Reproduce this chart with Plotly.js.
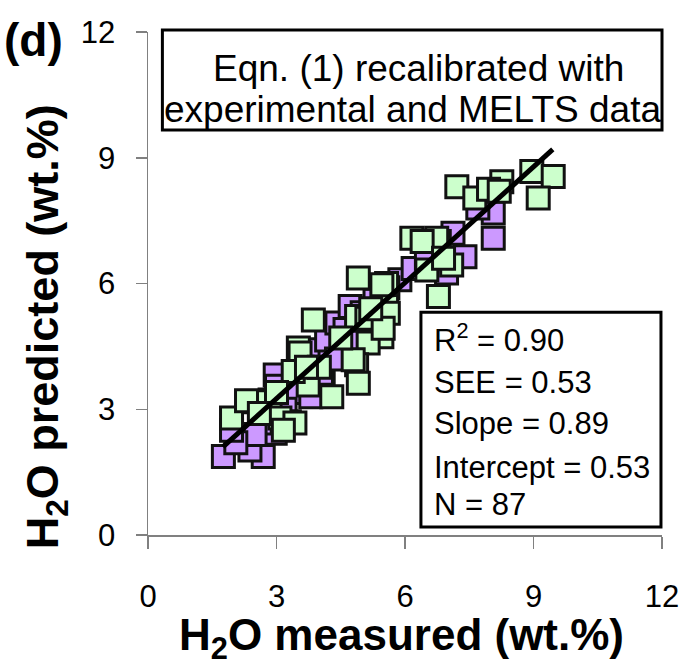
<!DOCTYPE html>
<html>
<head>
<meta charset="utf-8">
<script src="https://cdn.plot.ly/plotly-3.0.1.min.js"></script>
<style>html,body{margin:0;padding:0;background:#fff;}#chart{width:680px;height:663px;}</style>
</head>
<body>
<div id="chart"></div>
<script>
// Purple series (underneath)
const purpleX = [1.76,2.69,2.23,2.38,2.97,2.62,2.97,3.0,4.02,4.09,4.05,4.25,4.17,4.41,4.72,4.6,5.0,5.88,6.19,6.97,7.12,7.40,8.06,8.06,3.4,3.6,2.5,3.2,5.3,6.5,7.7,4.4,5.6,2.05,3.8,4.9,6.8,2.8,1.95,3.3];
const purpleY = [1.87,1.87,2.27,2.03,2.43,2.67,3.82,3.55,4.42,3.78,3.86,4.46,4.65,5.06,5.45,4.9,5.3,6.09,6.36,6.25,7.2,6.64,7.68,7.08,3.4,4.0,2.4,3.0,5.6,6.6,7.8,4.2,5.9,2.2,3.3,4.6,7.0,2.9,2.5,2.7];
// Green series (on top)
const greenX = [7.21,7.63,8.26,8.96,9.46,9.11,7.95,6.16,6.74,7.09,6.51,6.78,5.57,5.57,5.46,4.91,5.46,3.86,3.51,5.14,5.61,4.87,5.11,5.49,3.55,4.87,4.79,3.74,4.29,4.91,3.39,2.85,1.95,2.50,3.08,3.43,3.16,2.3,3.0,4.0,6.4,5.2,4.5,3.7,2.6,6.9,8.2];
const greenY = [8.31,8.04,8.43,8.67,8.55,8.04,8.25,7.08,7.08,6.44,6.32,5.69,6.0,5.45,4.73,6.13,5.97,5.13,4.46,4.58,5.29,5.21,5.17,4.93,4.34,4.06,4.18,3.58,3.30,3.62,3.90,3.22,2.79,3.18,2.79,2.67,2.5,3.2,3.4,4.0,7.0,5.4,4.7,4.0,2.9,6.6,8.2];
// Regression line endpoints
const fitX = [1.75, 9.45];
const fitY = [2.1, 9.2];
// Axis ticks
const tickVals = [0,3,6,9,12];
const tickText = ["0","3","6","9","12"];
// Texts
const xTitle = "<b>H<sub>2</sub>O measured (wt.%)</b>";
const yTitle = "<b>H<sub>2</sub>O predicted (wt.%)</b>";
const panelLabel = "<b>(d)</b>";
const boxLines = ["Eqn. (1) recalibrated with", "experimental and MELTS data"];
const statLines = ["R<sup>2</sup> = 0.90","SEE = 0.53","Slope = 0.89","Intercept = 0.53","N = 87"];

const FONT = "Liberation Sans, Arial, sans-serif";
const mk = (c)=>({symbol:'square', size:22, color:c, line:{color:'#111', width:3}});

const traces = [
  {x:purpleX, y:purpleY, type:'scatter', mode:'markers', marker:mk('#cc99ff'), name:'MELTS', hoverinfo:'skip'},
  {x:greenX, y:greenY, type:'scatter', mode:'markers', marker:mk('#ccffcc'), name:'Experimental', hoverinfo:'skip'},
  {x:fitX, y:fitY, type:'scatter', mode:'lines', line:{color:'#000', width:5}, name:'Fit', hoverinfo:'skip'}
];

const statY = [0.392,0.304,0.221,0.135,0.060];
const annotations = [];
statLines.forEach((t,i)=>annotations.push({xref:'paper',yref:'paper',x:0.553,y:statY[i],xanchor:'left',yanchor:'middle',text:t,showarrow:false,font:{family:FONT,size:31,color:'#000'}}));
const boxY = [0.928,0.845];
const boxX = [0.527,0.514];
boxLines.forEach((t,i)=>annotations.push({xref:'paper',yref:'paper',x:boxX[i],y:boxY[i],xanchor:'center',yanchor:'middle',text:t,showarrow:false,font:{family:FONT,size:37,color:'#000'}}));
annotations.push({xref:'paper',yref:'paper',x:-0.285,y:0.985,xanchor:'left',yanchor:'middle',text:panelLabel,showarrow:false,font:{family:FONT,size:46,color:'#000'}});
annotations.push({xref:'paper',yref:'paper',x:0.493,y:-0.204,xanchor:'center',yanchor:'middle',text:xTitle,showarrow:false,font:{family:FONT,size:44,color:'#000'}});
annotations.push({xref:'paper',yref:'paper',x:-0.2,y:0.4135,xanchor:'center',yanchor:'middle',textangle:-90,text:yTitle,showarrow:false,font:{family:FONT,size:45,color:'#000'}});

const layout = {
  width:680, height:663,
  margin:{l:148, r:18, t:32, b:128},
  paper_bgcolor:'#fff', plot_bgcolor:'#fff',
  showlegend:false,
  font:{family:FONT, color:'#000'},
  xaxis:{range:[0,12], tickvals:tickVals, ticktext:tickText, showgrid:false, zeroline:false,
    showline:true, linecolor:'#808080', linewidth:1.5, ticks:'outside', ticklen:12, tickwidth:1.5, tickcolor:'#808080',
    tickfont:{family:FONT,size:31,color:'#000'}, ticklabelstandoff:21, automargin:false},
  yaxis:{range:[0,12], tickvals:tickVals, ticktext:tickText, showgrid:false, zeroline:false,
    showline:true, linecolor:'#808080', linewidth:1.5, ticks:'outside', ticklen:11, tickwidth:1.5, tickcolor:'#808080',
    tickfont:{family:FONT,size:31,color:'#000'}, ticklabelstandoff:14, automargin:false},
  shapes:[
    {type:'rect', xref:'paper', yref:'paper', x0:0.028, x1:1.0, y0:0.805, y1:1.004, line:{color:'#000', width:3}, fillcolor:'rgba(0,0,0,0)', layer:'above'},
    {type:'rect', xref:'paper', yref:'paper', x0:0.531, x1:0.998, y0:0.016, y1:0.443, line:{color:'#000', width:3}, fillcolor:'#fff', layer:'above'}
  ],
  annotations:annotations
};
Plotly.newPlot('chart', traces, layout, {displayModeBar:false, staticPlot:true});
</script>
</body>
</html>
